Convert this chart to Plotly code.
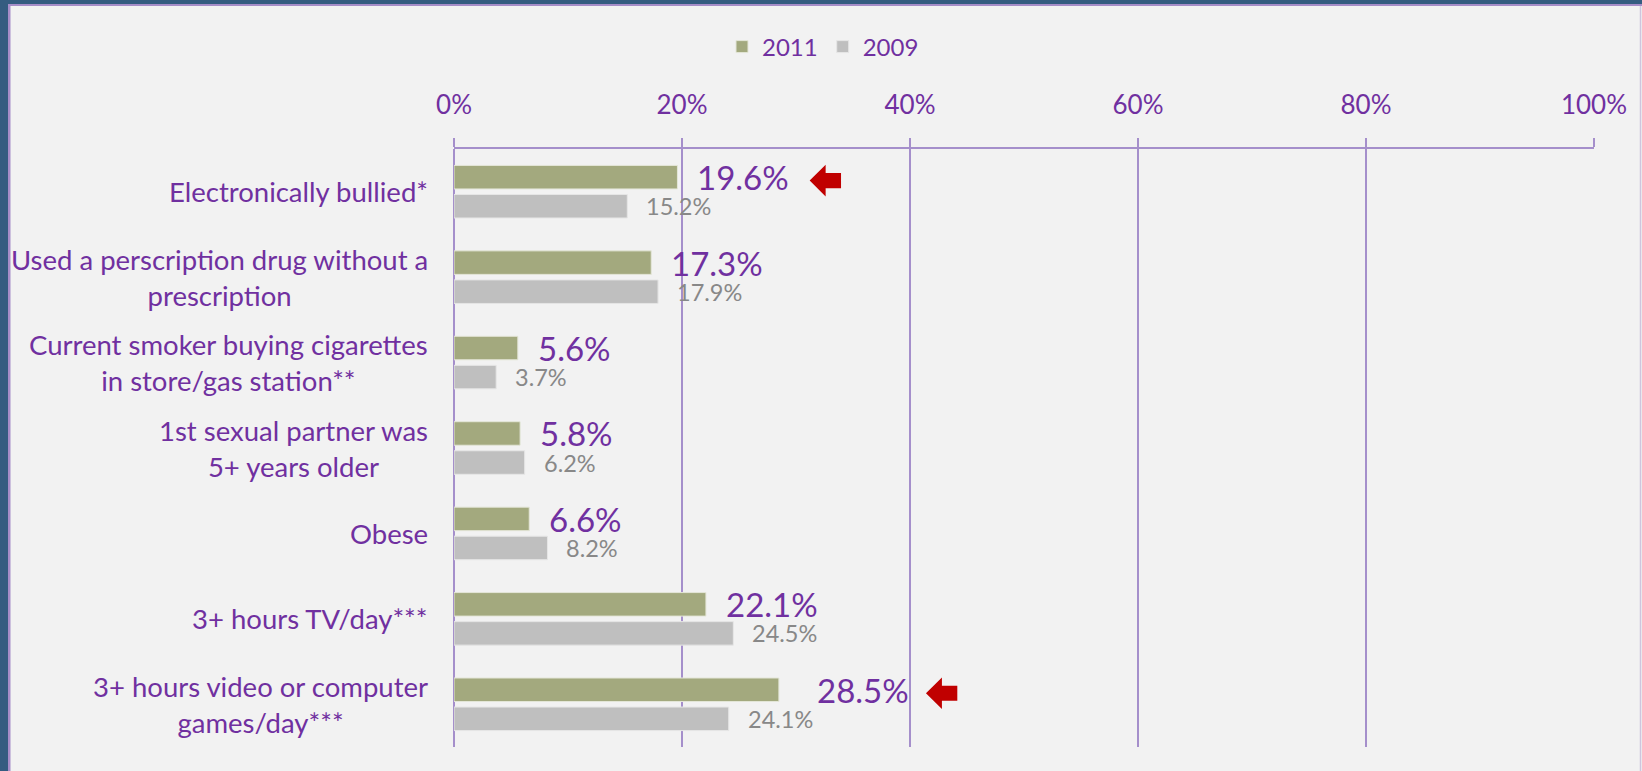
import plotly.graph_objects as go

categories = [
    "Electronically bullied*",
    "Used a perscription drug without a<br>prescription",
    "Current smoker buying cigarettes<br>in store/gas station**",
    "1st sexual partner was<br>5+ years older",
    "Obese",
    "3+ hours TV/day***",
    "3+ hours video or computer<br>games/day***",
]
values_2011 = [19.6, 17.3, 5.6, 5.8, 6.6, 22.1, 28.5]
values_2009 = [15.2, 17.9, 3.7, 6.2, 8.2, 24.5, 24.1]
highlighted = [0, 6]  # rows marked with a red arrow

PURPLE = "#7030A0"
GRID = "#A58FCB"
FONT = "Lato"
idx = list(range(len(categories)))

fig = go.Figure()
fig.add_trace(go.Bar(name="2011", y=idx, x=values_2011, orientation="h",
                     marker=dict(color="#A3A97E", line=dict(color="#E4E6D8", width=1))))
fig.add_trace(go.Bar(name="2009", y=idx, x=values_2009, orientation="h",
                     marker=dict(color="#BFBFBF", line=dict(color="#E6E6E6", width=1))))

bargap = 0.32
half = (1 - bargap) / 4  # center offset of each bar within its group

ann = []
# category labels (box right-aligned, lines centered)
for i, c in enumerate(categories):
    ann.append(dict(x=0, y=i, xref="x", yref="y", text=c, showarrow=False,
                    xanchor="right", yanchor="middle", align="center", xshift=-24,
                    font=dict(family=FONT, size=27.5, color=PURPLE)))
# value labels
shift_2011 = [18, 18, 18, 18, 18, 18, 36]
for i, v in enumerate(values_2011):
    ann.append(dict(x=v, y=i - half, xref="x", yref="y", text=f"{v:.1f}%", showarrow=False,
                    xanchor="left", yanchor="middle", xshift=shift_2011[i],
                    font=dict(family=FONT, size=33, color=PURPLE)))
for i, v in enumerate(values_2009):
    ann.append(dict(x=v, y=i + half, xref="x", yref="y", text=f"{v:.1f}%", showarrow=False,
                    xanchor="left", yanchor="middle", xshift=17,
                    font=dict(family=FONT, size=23.5, color="#888888")))

px = lambda p: (p - 454) / 1140
py = lambda p: (747 - p) / 598
shapes = []
# slide frame
shapes.append(dict(type="rect", xref="paper", yref="paper", x0=px(0), x1=px(1642), y0=py(4), y1=py(0),
                   fillcolor="#345C80", line=dict(width=0)))
shapes.append(dict(type="rect", xref="paper", yref="paper", x0=px(0), x1=px(8), y0=py(771), y1=py(0),
                   fillcolor="#345C80", line=dict(width=0)))
shapes.append(dict(type="rect", xref="paper", yref="paper", x0=px(8), x1=px(1642), y0=py(6), y1=py(4),
                   fillcolor="#A68DC8", line=dict(width=0)))
shapes.append(dict(type="rect", xref="paper", yref="paper", x0=px(8), x1=px(10.5), y0=py(771), y1=py(4),
                   fillcolor="#A68DC8", line=dict(width=0)))
shapes.append(dict(type="line", xref="paper", yref="paper", x0=px(1640.5), x1=px(1640.5), y0=py(771), y1=py(6),
                   line=dict(color="#CFC5DD", width=1.5)))

# red block arrows pointing at highlighted labels
arrow_tip = {0: 31.2, 6: 41.4}
for r in highlighted:
    t = arrow_tip[r]
    yc = r - half + 0.04
    h1, h2 = 0.185, 0.088
    path = (f"M{t},{yc} L{t+1.4},{yc-h1} L{t+1.4},{yc-h2} L{t+2.75},{yc-h2} "
            f"L{t+2.75},{yc+h2} L{t+1.4},{yc+h2} L{t+1.4},{yc+h1} Z")
    shapes.append(dict(type="path", xref="x", yref="y", path=path,
                       fillcolor="#C00000", line=dict(width=0)))

fig.update_layout(
    width=1642, height=771,
    margin=dict(l=454, r=48, t=149, b=24),
    paper_bgcolor="#F2F2F2", plot_bgcolor="#F2F2F2",
    barmode="group", bargap=bargap, bargroupgap=0.19,
    font=dict(family=FONT, color=PURPLE),
    legend=dict(orientation="h", x=(722 - 454) / 1140, xanchor="left", y=py(47), yanchor="middle",
                font=dict(family=FONT, size=24, color=PURPLE), bgcolor="rgba(0,0,0,0)",
                traceorder="normal"),
    annotations=ann, shapes=shapes,
    xaxis=dict(side="top", range=[0, 100], dtick=20, ticksuffix="%", showgrid=True,
               gridcolor=GRID, gridwidth=1.5, showline=True, linecolor=GRID, linewidth=1.5,
               ticks="outside", ticklen=9, tickcolor=GRID, tickwidth=1.5,
               zeroline=True, zerolinecolor=GRID, zerolinewidth=1.5,
               tickfont=dict(family=FONT, size=26, color=PURPLE), ticklabelstandoff=14,
               fixedrange=True),
    yaxis=dict(type="linear", range=[6.5, -0.5], showticklabels=False, showgrid=False,
               zeroline=False, showline=False, fixedrange=True),
)

fig.write_html("out.html", config={"displayModeBar": False},
               post_script="document.body.style.margin='0';")
